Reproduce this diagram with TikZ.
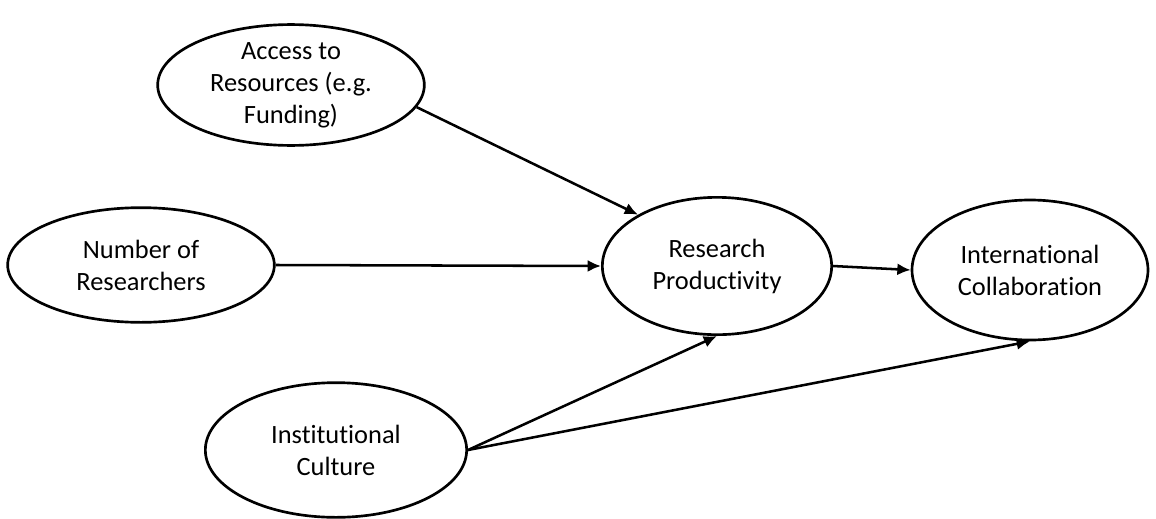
\documentclass[tikz,border=0pt]{standalone}
\usepackage{fontspec}
\setmainfont{Carlito}[Ligatures={TeX,NoCommon}]
\usetikzlibrary{shapes.geometric,arrows.meta}
\tikzset{
  factor/.style={ellipse,draw=black,line width=2pt,inner sep=0pt,align=center,
    font=\fontsize{19.8}{24}\selectfont},
  link/.style={line width=1.9pt,-{Latex[length=10pt,width=9pt]}}
}
\begin{document}
\begin{tikzpicture}[x=0.75pt,y=-0.75pt]
\useasboundingbox (0,0) rectangle (1156,518);
\node [factor,minimum width=200pt,minimum height=87pt] (acc) at (291,85) {Access to\\Resources (e.g.\\Funding)};
\node [factor,minimum width=200pt,minimum height=86pt] (num) at (141,265) {Number of\\Researchers};
\node [factor,minimum width=172pt,minimum height=103pt] (res) at (717,266) {Research\\Productivity};
\node [factor,minimum width=177pt,minimum height=105pt] (intl) at (1030,270) {International\\Collaboration};
\node [factor,minimum width=196pt,minimum height=101pt] (inst) at (336,450) {Institutional\\Culture};
\draw [link] (acc.-10) -- (res.147);
\draw [link] (num.east) -- (res.west);
\draw [link] (res.east) -- (intl.west);
\draw [link] (inst.east) -- (res.south);
\draw [link] (inst.east) -- (intl.south);
\end{tikzpicture}
\end{document}
